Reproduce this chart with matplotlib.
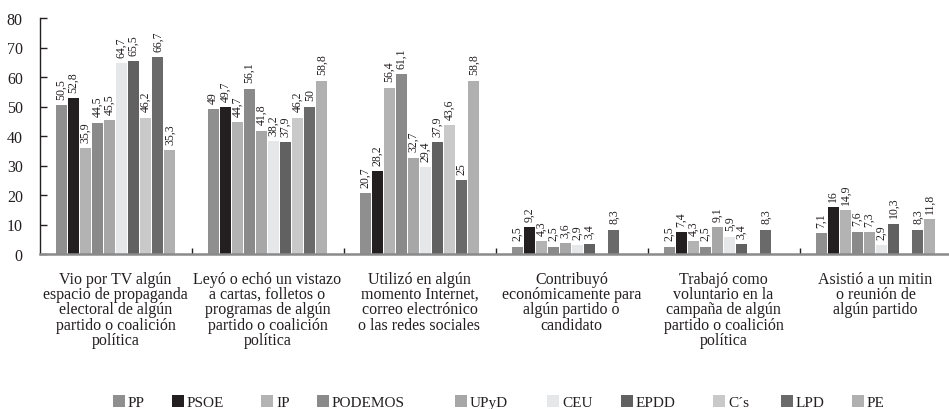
import numpy as np
import matplotlib
matplotlib.use("Agg")
import matplotlib.pyplot as plt
from matplotlib.patches import Rectangle

plt.rcParams['font.family'] = ['Liberation Serif', 'DejaVu Serif']

categories = [
    "Vio por TV algún\nespacio de propaganda\nelectoral de algún\npartido o coalición\npolítica",
    "Leyó o echó un vistazo\na cartas, folletos o\nprogramas de algún\npartido o coalición\npolítica",
    "Utilizó en algún\nmomento Internet,\ncorreo electrónico\no las redes sociales",
    "Contribuyó\neconómicamente para\nalgún partido o\ncandidato",
    "Trabajó como\nvoluntario en la\ncampaña de algún\npartido o coalición\npolítica",
    "Asistió a un mitin\no reunión de\nalgún partido",
]

parties = ["PP", "PSOE", "IP", "PODEMOS", "UPyD", "CEU", "EPDD", "C´s", "LPD", "PE"]

nan = np.nan
pp      = [50.5, 49.0, 20.7, 2.5, 2.5, 7.1]
psoe    = [52.8, 49.7, 28.2, 9.2, 7.4, 16.0]
ip      = [35.9, 44.7, 56.4, 4.3, 4.3, 14.9]
podemos = [44.5, 56.1, 61.1, 2.5, 2.5, 7.6]
upyd    = [45.5, 41.8, 32.7, 3.6, 9.1, 7.3]
ceu     = [64.7, 38.2, 29.4, 2.9, 5.9, 2.9]
epdd    = [65.5, 37.9, 37.9, 3.4, 3.4, 10.3]
cs      = [46.2, 46.2, 43.6, nan, nan, nan]
lpd     = [66.7, 50.0, 25.0, 8.3, 8.3, 8.3]
pe      = [35.3, 58.8, 58.8, nan, nan, 11.8]

series = [pp, psoe, ip, podemos, upyd, ceu, epdd, cs, lpd, pe]
colors = ["#8f8f8f", "#231f20", "#b3b3b3", "#8a8a8a", "#a7a7a7",
          "#e6e7e8", "#616161", "#c9c9c9", "#6a6a6a", "#b0b0b0"]

W, H = 949, 410
fig = plt.figure(figsize=(W / 100, H / 100), dpi=100)
ax = fig.add_axes([39.5 / W, 155 / H, 912 / W, 236 / H])

slot = 12.1 / 152.0
bw = 11.0 / 152.0
n = len(series)
for j, (vals, col) in enumerate(zip(series, colors)):
    xs = np.arange(len(categories)) + 0.5 + (j - (n - 1) / 2) * slot
    ax.bar(xs, vals, width=bw, color=col, linewidth=0)
    for x, v in zip(xs, vals):
        if np.isnan(v):
            continue
        txt = f"{v:g}".replace(".", ",")
        ax.annotate(txt, (x, v), xytext=(0, 4.5), textcoords="offset points",
                    rotation=90, ha="center", va="bottom", fontsize=8.5,
                    color="#231f20")

ax.set_xlim(0, len(categories))
ax.set_ylim(0, 80)
ax.set_yticks(np.arange(0, 81, 10))
ax.tick_params(axis="y", direction="in", length=5, width=1, labelsize=11.5,
               pad=12, colors="#231f20")

ax.set_xticks(np.arange(1, len(categories)))
ax.set_xticklabels([])
ax.tick_params(axis="x", which="major", direction="in", length=4, width=1,
               color="#231f20")
ax.set_xticks(np.arange(len(categories)) + 0.5, minor=True)
ax.set_xticklabels(categories, minor=True, fontsize=11.5, linespacing=0.95,
                   color="#231f20")
ax.tick_params(axis="x", which="minor", length=0, pad=12)

for s in ["top", "right"]:
    ax.spines[s].set_visible(False)
ax.spines["left"].set_color("#231f20")
ax.spines["left"].set_linewidth(1)
ax.spines["bottom"].set_color("#8a8a8a")
ax.spines["bottom"].set_linewidth(1.8)

# legend entries placed along the bottom edge
leg_x = [113, 172, 261, 317, 455, 547, 621, 713, 781, 852]
for lx, name, col in zip(leg_x, parties, colors):
    fig.add_artist(Rectangle((lx / W, 2 / H), 12 / W, 12 / H,
                             transform=fig.transFigure, color=col, lw=0))
    fig.text((lx + 15) / W, 3 / H, name, fontsize=11, va="baseline",
             ha="left", color="#231f20")

fig.savefig("out.png", dpi=100)
